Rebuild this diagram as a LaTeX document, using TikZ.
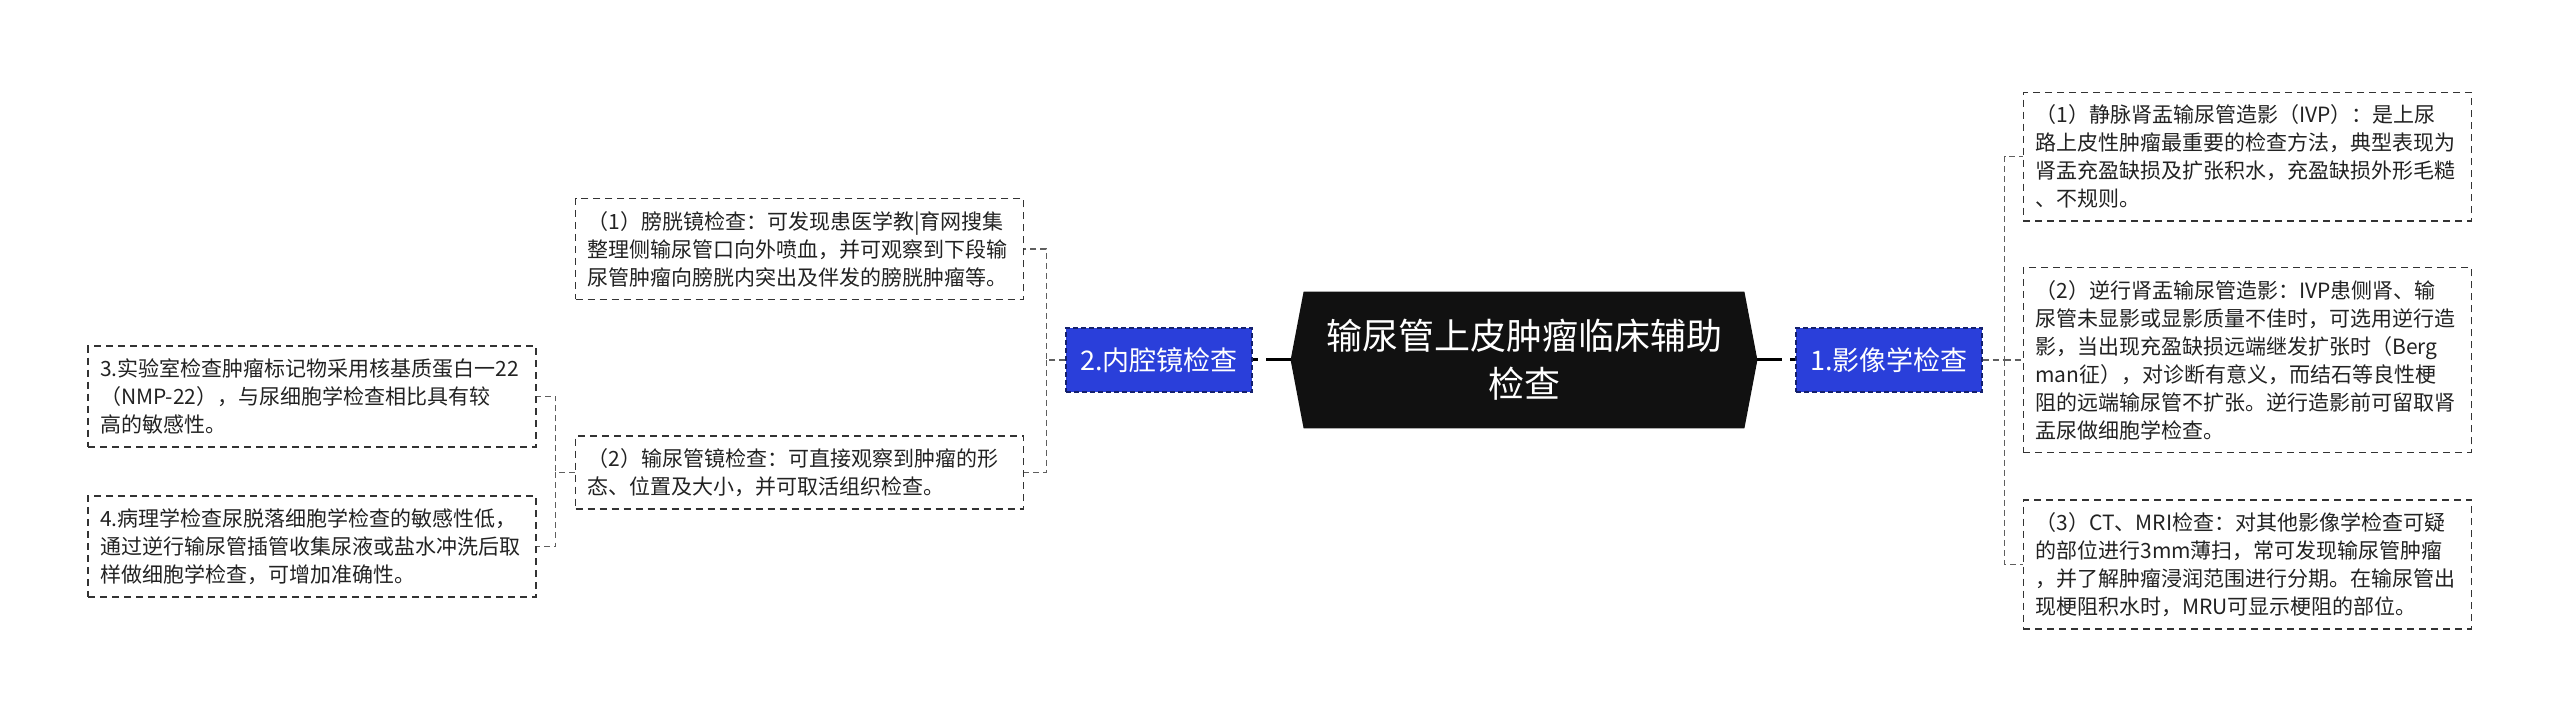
\documentclass[tikz,border=0pt]{standalone}
\usepackage{fontspec}
\setmainfont{Noto Sans CJK SC}
\usetikzlibrary{positioning, backgrounds}

\definecolor{topicblue}{HTML}{2A3FDA}
\definecolor{topicedge}{HTML}{14206E}
\definecolor{leafedge}{HTML}{333333}
\definecolor{leaftext}{HTML}{222222}
\definecolor{linkgray}{HTML}{5E5E5E}
\definecolor{hubfill}{HTML}{111111}

\begin{document}
\begin{tikzpicture}[
    x=0.5pt, y=-0.5pt,
    hub/.style={
        rectangle, inner sep=0pt,
        minimum width=233pt, minimum height=68pt,
        align=center, text=white,
        font=\fontsize{18pt}{24pt}\selectfont
    },
    topic/.style={
        rectangle, draw=topicedge, fill=topicblue,
        dash pattern=on 2.5pt off 1.5pt, line width=0.6pt,
        minimum width=93pt, minimum height=32pt,
        text=white, font=\fontsize{13.5pt}{16pt}\selectfont
    },
    leaf/.style={
        rectangle, draw=leafedge,
        dash pattern=on 3.5pt off 2.5pt, line width=0.8pt,
        align=left, text width=212pt,
        inner xsep=6pt, inner ysep=6.25pt,
        text=leaftext, font=\fontsize{10.5pt}{14pt}\selectfont
    },
    trunk/.style={draw=black, line width=1.5pt, dash pattern=on 12.5pt off 4pt},
    link/.style={draw=linkgray, line width=0.6pt, dash pattern=on 3pt off 2pt}
]

\useasboundingbox (0,0) rectangle (2560,721);

% --- centre ---
\node[hub] (hub) at (1524,360) {输尿管上皮肿瘤临床辅助\\检查};
\begin{scope}[on background layer]
\fill[hubfill] ([xshift=6.5pt]hub.north west) -- (hub.west) -- ([xshift=6.5pt]hub.south west)
    -- ([xshift=-6.5pt]hub.south east) -- (hub.east) -- ([xshift=-6.5pt]hub.north east) -- cycle;
\end{scope}

% --- main topics ---
\node[topic, left=19pt of hub] (endo) {2.内腔镜检查};
\node[topic, right=19pt of hub] (imaging) {1.影像学检查};

% --- endoscopy side ---
\node[leaf, left=20.5pt of endo, yshift=55.5pt] (cysto) {（1）膀胱镜检查：可发现患医学教|育网搜集\\整理侧输尿管口向外喷血，并可观察到下段输\\尿管肿瘤向膀胱内突出及伴发的膀胱肿瘤等。};
\node[leaf, left=20.5pt of endo, yshift=-56.25pt] (uretero) {（2）输尿管镜检查：可直接观察到肿瘤的形\\态、位置及大小，并可取活组织检查。};
\node[leaf, left=19pt of uretero, yshift=38pt] (nmp) {3.实验室检查肿瘤标记物采用核基质蛋白一22\\（NMP-22），与尿细胞学检查相比具有较\\高的敏感性。};
\node[leaf, left=19pt of uretero, yshift=-37pt] (cyto) {4.病理学检查尿脱落细胞学检查的敏感性低，\\通过逆行输尿管插管收集尿液或盐水冲洗后取\\样做细胞学检查，可增加准确性。};

% --- imaging side ---
\node[leaf, right=20pt of imaging] (retro) {（2）逆行肾盂输尿管造影：IVP患侧肾、输\\尿管未显影或显影质量不佳时，可选用逆行造\\影，当出现充盈缺损远端继发扩张时（Berg\\man征），对诊断有意义，而结石等良性梗\\阻的远端输尿管不扩张。逆行造影前可留取肾\\盂尿做细胞学检查。};
\node[leaf, above=22.5pt of retro] (ivp) {（1）静脉肾盂输尿管造影（IVP）：是上尿\\路上皮性肿瘤最重要的检查方法，典型表现为\\肾盂充盈缺损及扩张积水，充盈缺损外形毛糙\\、不规则。};
\node[leaf, below=23pt of retro] (ctmri) {（3）CT、MRI检查：对其他影像学检查可疑\\的部位进行3mm薄扫，常可发现输尿管肿瘤\\，并了解肿瘤浸润范围进行分期。在输尿管出\\现梗阻积水时，MRU可显示梗阻的部位。};

% --- connectors ---
\draw[trunk] (hub) -- (endo);
\draw[trunk] (hub) -- (imaging);

\draw[link] (endo.west) -- ++(-9.5pt,0) coordinate (lbus) |- (cysto.east);
\draw[link] (lbus) |- (uretero.east);
\draw[link] (uretero.west) -- ++(-9.5pt,0) coordinate (lbus2) |- (nmp.east);
\draw[link] (lbus2) |- (cyto.east);

\draw[link] (imaging.east) -- ++(11pt,0) coordinate (rbus) |- (ivp.west);
\draw[link] (rbus) -- (retro.west);
\draw[link] (rbus) |- (ctmri.west);

\end{tikzpicture}
\end{document}
